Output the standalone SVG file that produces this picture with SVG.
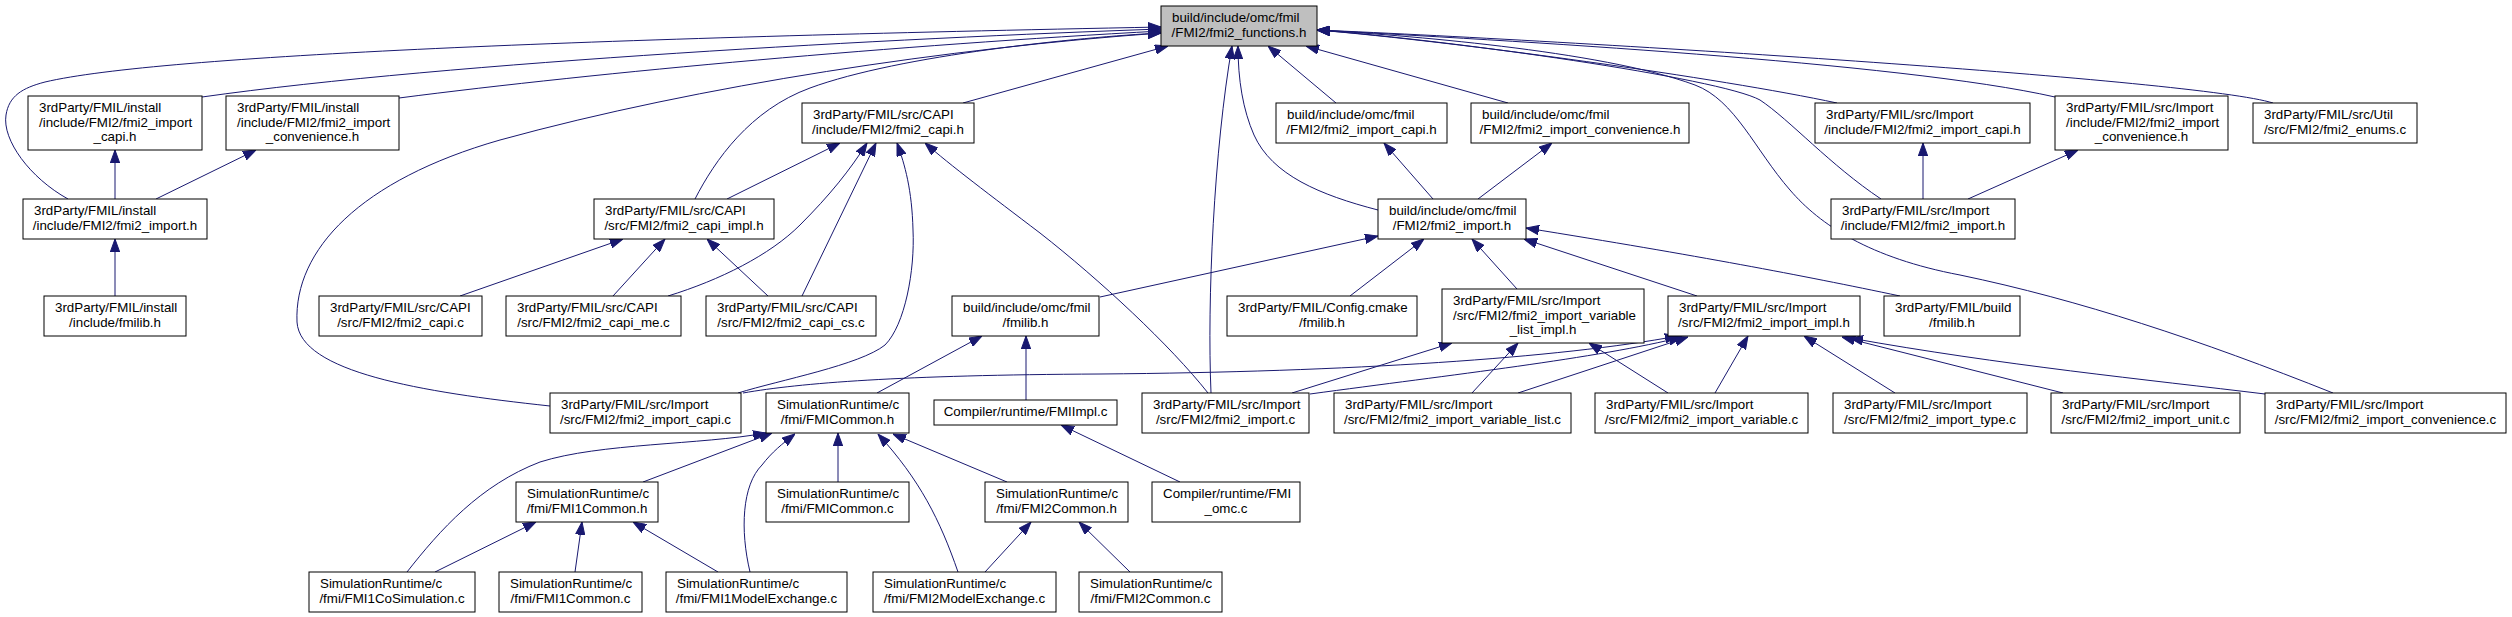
<svg xmlns="http://www.w3.org/2000/svg" width="2512" height="617" viewBox="0 0 2512 617">
<style>
.node rect{fill:#fff;stroke:#000;stroke-width:1}
.node rect.root{fill:#bfbfbf}
.node text{font-family:"Liberation Sans",Arial,Helvetica,sans-serif;font-size:13.33px;fill:#000}
.node text.c{text-anchor:middle}
.edges path{fill:none;stroke:#191970;stroke-width:1;marker-end:url(#ah)}
</style>
<defs>
<marker id="ah" viewBox="0 0 13 10" refX="13" refY="5" markerWidth="13" markerHeight="10" markerUnits="userSpaceOnUse" orient="auto">
<path d="M0,0.3 L13,5 L0,9.7 z" fill="#191970" stroke="#191970" stroke-width="1"/>
</marker>
</defs>
<rect width="2512" height="617" fill="#fff"/>
<g class="edges">
<path d="M202,97 C 450,62 900,38 1161,29"/>
<path d="M399,98 C 600,72 900,45 1161,31"/>
<path d="M68,199 C 30,178 2,140 6,115 C 9,96 22,88 45,82 C 160,55 600,38 1161,27"/>
<path d="M550,406 C 420,392 300,372 297,322 C 294,250 360,180 500,140 C 700,85 950,48 1161,33"/>
<path d="M963,103 L1168,46"/>
<path d="M695,199 C 715,160 750,110 810,88 C 900,55 1080,37 1161,33"/>
<path d="M1211,393 C 1207,300 1214,150 1232,46"/>
<path d="M1336,103 L1268,46"/>
<path d="M1508,103 L1306,46"/>
<path d="M1378,210 C 1320,195 1272,175 1254,135 C 1243,110 1238,80 1238,46"/>
<path d="M1837,103 C 1720,78 1460,42 1317,30"/>
<path d="M2055,97 C 1900,62 1500,40 1317,30"/>
<path d="M2273,103 C 2200,80 1600,42 1317,30"/>
<path d="M1881,199 C 1830,165 1790,120 1760,100 C 1720,78 1450,40 1317,30"/>
<path d="M2333,393 C 2200,340 2080,300 1960,275 C 1870,258 1820,225 1790,190 C 1755,150 1735,100 1695,85 C 1600,50 1400,35 1317,30"/>
<path d="M115,199 L115,150"/>
<path d="M156,199 L256,150"/>
<path d="M115,296 L115,239"/>
<path d="M727,199 L840,143"/>
<path d="M460,296 L623,239"/>
<path d="M613,296 L665,239"/>
<path d="M768,296 L707,239"/>
<path d="M668,296 C 720,280 770,255 800,225 C 830,195 850,170 867,143"/>
<path d="M802,296 L876,143"/>
<path d="M738,393 C 780,380 860,365 885,345 C 905,325 915,270 913,230 C 912,190 905,165 897,143"/>
<path d="M1208,393 C 1170,345 1100,280 1040,233 C 990,195 950,165 925,143"/>
<path d="M1433,199 L1384,143"/>
<path d="M1478,199 L1552,143"/>
<path d="M1923,199 L1923,143"/>
<path d="M1968,199 L2078,150"/>
<path d="M1100,297 L1378,236"/>
<path d="M1350,296 L1424,239"/>
<path d="M1517,289 L1472,239"/>
<path d="M1697,296 L1524,239"/>
<path d="M1900,296 C 1800,275 1700,256 1526,228"/>
<path d="M877,393 L982,336"/>
<path d="M1026,400 L1026,336"/>
<path d="M1292,393 L1452,343"/>
<path d="M1472,393 L1518,343"/>
<path d="M1668,393 L1589,343"/>
<path d="M1310,394 C 1450,375 1600,358 1682,337"/>
<path d="M1518,393 L1688,337"/>
<path d="M743,393 C 800,383 900,375 1100,374 C 1350,372 1560,358 1678,336"/>
<path d="M1715,393 L1748,336"/>
<path d="M1895,393 L1804,336"/>
<path d="M2063,393 L1842,337"/>
<path d="M2265,394 C 2150,380 2000,365 1850,338"/>
<path d="M838,482 L838,433"/>
<path d="M643,482 L772,433"/>
<path d="M407,572 C 440,530 480,485 540,462 C 600,443 700,445 766,433"/>
<path d="M750,572 C 740,530 742,485 762,465 C 772,452 782,444 795,434"/>
<path d="M958,572 C 940,520 920,480 878,434"/>
<path d="M1007,482 L893,434"/>
<path d="M575,572 L582,522"/>
<path d="M435,572 L536,522"/>
<path d="M718,572 L633,522"/>
<path d="M985,572 L1031,522"/>
<path d="M1130,572 L1079,522"/>
<path d="M1180,482 L1061,425"/>
</g>
<g id="n0" class="node"><rect class="root" x="1161" y="6" width="156" height="40"/><text x="1172" y="22.3">build/include/omc/fmil</text><text class="c" x="1239" y="37">/FMI2/fmi2_functions.h</text></g>
<g id="n1" class="node"><rect x="28" y="96" width="174" height="54"/><text x="39" y="111.9">3rdParty/FMIL/install</text><text x="39" y="126.6">/include/FMI2/fmi2_import</text><text class="c" x="115" y="141.3">_capi.h</text></g>
<g id="n2" class="node"><rect x="226" y="96" width="173" height="54"/><text x="237" y="111.9">3rdParty/FMIL/install</text><text x="237" y="126.6">/include/FMI2/fmi2_import</text><text class="c" x="312.5" y="141.3">_convenience.h</text></g>
<g id="n3" class="node"><rect x="23" y="199" width="184" height="40"/><text x="34" y="215.3">3rdParty/FMIL/install</text><text class="c" x="115" y="230">/include/FMI2/fmi2_import.h</text></g>
<g id="n4" class="node"><rect x="44" y="296" width="142" height="40"/><text x="55" y="312.3">3rdParty/FMIL/install</text><text class="c" x="115" y="327">/include/fmilib.h</text></g>
<g id="n5" class="node"><rect x="802" y="103" width="172" height="40"/><text x="813" y="119.3">3rdParty/FMIL/src/CAPI</text><text class="c" x="888" y="134">/include/FMI2/fmi2_capi.h</text></g>
<g id="n6" class="node"><rect x="594" y="199" width="180" height="40"/><text x="605" y="215.3">3rdParty/FMIL/src/CAPI</text><text class="c" x="684" y="230">/src/FMI2/fmi2_capi_impl.h</text></g>
<g id="n7" class="node"><rect x="319" y="296" width="163" height="40"/><text x="330" y="312.3">3rdParty/FMIL/src/CAPI</text><text class="c" x="400.5" y="327">/src/FMI2/fmi2_capi.c</text></g>
<g id="n8" class="node"><rect x="506" y="296" width="175" height="40"/><text x="517" y="312.3">3rdParty/FMIL/src/CAPI</text><text class="c" x="593.5" y="327">/src/FMI2/fmi2_capi_me.c</text></g>
<g id="n9" class="node"><rect x="706" y="296" width="170" height="40"/><text x="717" y="312.3">3rdParty/FMIL/src/CAPI</text><text class="c" x="791" y="327">/src/FMI2/fmi2_capi_cs.c</text></g>
<g id="n10" class="node"><rect x="1276" y="103" width="171" height="40"/><text x="1287" y="119.3">build/include/omc/fmil</text><text class="c" x="1361.5" y="134">/FMI2/fmi2_import_capi.h</text></g>
<g id="n11" class="node"><rect x="1471" y="103" width="218" height="40"/><text x="1482" y="119.3">build/include/omc/fmil</text><text class="c" x="1580" y="134">/FMI2/fmi2_import_convenience.h</text></g>
<g id="n12" class="node"><rect x="1378" y="199" width="148" height="40"/><text x="1389" y="215.3">build/include/omc/fmil</text><text class="c" x="1452" y="230">/FMI2/fmi2_import.h</text></g>
<g id="n13" class="node"><rect x="1815" y="103" width="215" height="40"/><text x="1826" y="119.3">3rdParty/FMIL/src/Import</text><text class="c" x="1922.5" y="134">/include/FMI2/fmi2_import_capi.h</text></g>
<g id="n14" class="node"><rect x="2055" y="96" width="173" height="54"/><text x="2066" y="111.9">3rdParty/FMIL/src/Import</text><text x="2066" y="126.6">/include/FMI2/fmi2_import</text><text class="c" x="2141.5" y="141.3">_convenience.h</text></g>
<g id="n15" class="node"><rect x="2253" y="103" width="164" height="40"/><text x="2264" y="119.3">3rdParty/FMIL/src/Util</text><text class="c" x="2335" y="134">/src/FMI2/fmi2_enums.c</text></g>
<g id="n16" class="node"><rect x="1831" y="199" width="184" height="40"/><text x="1842" y="215.3">3rdParty/FMIL/src/Import</text><text class="c" x="1923" y="230">/include/FMI2/fmi2_import.h</text></g>
<g id="n17" class="node"><rect x="952" y="296" width="147" height="40"/><text x="963" y="312.3">build/include/omc/fmil</text><text class="c" x="1025.5" y="327">/fmilib.h</text></g>
<g id="n18" class="node"><rect x="1227" y="296" width="190" height="40"/><text x="1238" y="312.3">3rdParty/FMIL/Config.cmake</text><text class="c" x="1322" y="327">/fmilib.h</text></g>
<g id="n19" class="node"><rect x="1442" y="289" width="202" height="54"/><text x="1453" y="304.9">3rdParty/FMIL/src/Import</text><text x="1453" y="319.6">/src/FMI2/fmi2_import_variable</text><text class="c" x="1543" y="334.3">_list_impl.h</text></g>
<g id="n20" class="node"><rect x="1668" y="296" width="192" height="40"/><text x="1679" y="312.3">3rdParty/FMIL/src/Import</text><text class="c" x="1764" y="327">/src/FMI2/fmi2_import_impl.h</text></g>
<g id="n21" class="node"><rect x="1884" y="296" width="136" height="40"/><text x="1895" y="312.3">3rdParty/FMIL/build</text><text class="c" x="1952" y="327">/fmilib.h</text></g>
<g id="n22" class="node"><rect x="550" y="393" width="191" height="40"/><text x="561" y="409.3">3rdParty/FMIL/src/Import</text><text class="c" x="645.5" y="424">/src/FMI2/fmi2_import_capi.c</text></g>
<g id="n23" class="node"><rect x="766" y="393" width="143" height="40"/><text x="777" y="409.3">SimulationRuntime/c</text><text class="c" x="837.5" y="424">/fmi/FMICommon.h</text></g>
<g id="n24" class="node"><rect x="934" y="400" width="183" height="25"/><text class="c" x="1025.5" y="416.1">Compiler/runtime/FMIImpl.c</text></g>
<g id="n25" class="node"><rect x="1142" y="393" width="167" height="40"/><text x="1153" y="409.3">3rdParty/FMIL/src/Import</text><text class="c" x="1225.5" y="424">/src/FMI2/fmi2_import.c</text></g>
<g id="n26" class="node"><rect x="1334" y="393" width="237" height="40"/><text x="1345" y="409.3">3rdParty/FMIL/src/Import</text><text class="c" x="1452.5" y="424">/src/FMI2/fmi2_import_variable_list.c</text></g>
<g id="n27" class="node"><rect x="1595" y="393" width="213" height="40"/><text x="1606" y="409.3">3rdParty/FMIL/src/Import</text><text class="c" x="1701.5" y="424">/src/FMI2/fmi2_import_variable.c</text></g>
<g id="n28" class="node"><rect x="1833" y="393" width="194" height="40"/><text x="1844" y="409.3">3rdParty/FMIL/src/Import</text><text class="c" x="1930" y="424">/src/FMI2/fmi2_import_type.c</text></g>
<g id="n29" class="node"><rect x="2051" y="393" width="189" height="40"/><text x="2062" y="409.3">3rdParty/FMIL/src/Import</text><text class="c" x="2145.5" y="424">/src/FMI2/fmi2_import_unit.c</text></g>
<g id="n30" class="node"><rect x="2265" y="393" width="241" height="40"/><text x="2276" y="409.3">3rdParty/FMIL/src/Import</text><text class="c" x="2385.5" y="424">/src/FMI2/fmi2_import_convenience.c</text></g>
<g id="n31" class="node"><rect x="516" y="482" width="142" height="40"/><text x="527" y="498.3">SimulationRuntime/c</text><text class="c" x="587" y="513">/fmi/FMI1Common.h</text></g>
<g id="n32" class="node"><rect x="766" y="482" width="143" height="40"/><text x="777" y="498.3">SimulationRuntime/c</text><text class="c" x="837.5" y="513">/fmi/FMICommon.c</text></g>
<g id="n33" class="node"><rect x="985" y="482" width="143" height="40"/><text x="996" y="498.3">SimulationRuntime/c</text><text class="c" x="1056.5" y="513">/fmi/FMI2Common.h</text></g>
<g id="n34" class="node"><rect x="1152" y="482" width="148" height="40"/><text x="1163" y="498.3">Compiler/runtime/FMI</text><text class="c" x="1226" y="513">_omc.c</text></g>
<g id="n35" class="node"><rect x="309" y="572" width="166" height="40"/><text x="320" y="588.3">SimulationRuntime/c</text><text class="c" x="392" y="603">/fmi/FMI1CoSimulation.c</text></g>
<g id="n36" class="node"><rect x="499" y="572" width="143" height="40"/><text x="510" y="588.3">SimulationRuntime/c</text><text class="c" x="570.5" y="603">/fmi/FMI1Common.c</text></g>
<g id="n37" class="node"><rect x="666" y="572" width="181" height="40"/><text x="677" y="588.3">SimulationRuntime/c</text><text class="c" x="756.5" y="603">/fmi/FMI1ModelExchange.c</text></g>
<g id="n38" class="node"><rect x="873" y="572" width="183" height="40"/><text x="884" y="588.3">SimulationRuntime/c</text><text class="c" x="964.5" y="603">/fmi/FMI2ModelExchange.c</text></g>
<g id="n39" class="node"><rect x="1079" y="572" width="143" height="40"/><text x="1090" y="588.3">SimulationRuntime/c</text><text class="c" x="1150.5" y="603">/fmi/FMI2Common.c</text></g>
</svg>
